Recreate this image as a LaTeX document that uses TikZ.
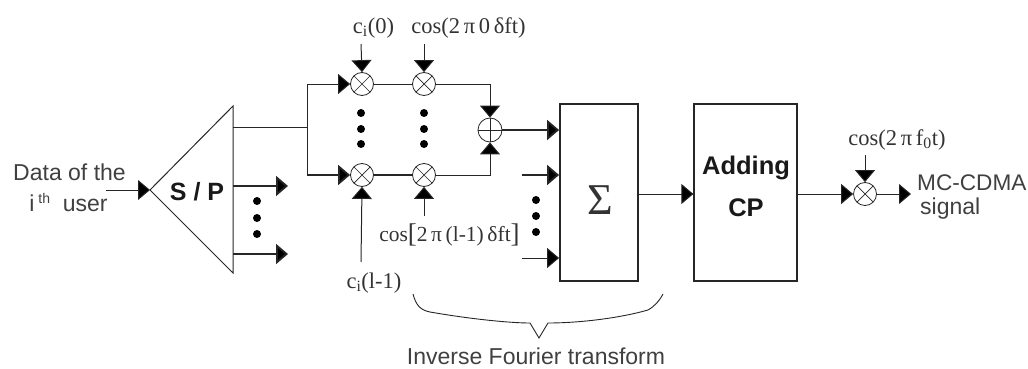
\documentclass[tikz,border=0pt]{standalone}
\usepackage{fontspec}
\setmainfont{Liberation Sans}
\newfontfamily\serifx{Liberation Serif}
\usetikzlibrary{arrows.meta}
\tikzset{
 thinw/.style={line width=1pt,draw=black!85},
 thickw/.style={line width=1.8pt,draw=black!85},
 arr/.style={-{Triangle[length=12pt,width=20pt,fill=black]}},
 mult/.style={circle,draw=black!85,line width=.8pt,minimum size=23pt,inner sep=0pt,fill=white,
   path picture={\draw[line width=.7pt,black!85] (path picture bounding box.north west)--(path picture bounding box.south east)
     (path picture bounding box.north east)--(path picture bounding box.south west);}},
 adder/.style={circle,draw=black!85,line width=.8pt,minimum size=24pt,inner sep=0pt,fill=white,
   path picture={\draw[line width=.8pt,black!85] (path picture bounding box.north)--(path picture bounding box.south)
     (path picture bounding box.east)--(path picture bounding box.west);}},
 bdot/.style={circle,fill=black,draw=none,minimum size=8pt,inner sep=0pt},
 sans/.style={font=\fontsize{23}{26}\selectfont,text=black!75,inner sep=0pt},
 sansb/.style={font=\fontsize{25.5}{28}\selectfont\bfseries,text=black!90,inner sep=0pt},
 ser/.style={font=\serifx\fontsize{22.5}{26}\selectfont,text=black!80,inner sep=0pt},
 blk/.style={draw=black!85,line width=1.8pt,inner sep=0pt},
}
\begin{document}
\begin{tikzpicture}[x=1pt,y=-1pt]
\useasboundingbox (0,0) rectangle (1028,369);
% S/P triangle
\coordinate (apex) at (150,190);
\coordinate (tt) at (233,106);
\coordinate (tb) at (233,273);
\draw[thinw,line join=miter] (apex)--(tt)--(tb)--cycle;
\node[sansb,font=\fontsize{25}{28}\selectfont\bfseries] (sp) at (197,192) {S / P};
\node[sans,anchor=center] (d1) at (69.5,172) {Data of the};
\node[sans,anchor=center] (d2) at (68.5,203) {i\raisebox{8pt}{\fontsize{14}{16}\selectfont\ th}\ \ user};
\coordinate (din) at (106,190);
\draw[thinw,arr] (din)--(apex);
% S/P outputs
\coordinate (s1) at (233,186); \coordinate (s1e) at (288,186);
\coordinate (s2) at (233,254); \coordinate (s2e) at (288,254);
\draw[thickw,arr] (s1)--(s1e);
\draw[thickw,arr] (s2)--(s2e);
\node[bdot] (sd1) at (257,201) {};
\node[bdot] (sd2) at (257,218) {};
\node[bdot] (sd3) at (257,234) {};
% splitting
\coordinate (s0) at (233,127);
\coordinate (br) at (307,127);
\coordinate (brt) at (307,84);
\coordinate (brb) at (307,175);
\node[mult] (m11) at (362,84) {};
\node[mult] (m12) at (424,84) {};
\node[mult] (m21) at (362,175) {};
\node[mult] (m22) at (424,175) {};
\node[adder] (add) at (490,130) {};
\draw[thinw] (s0)--(br);
\draw[thinw] (brb)--(brt);
\draw[thinw,arr] (brt)--(m11.west);
\draw[thickw,arr] (brb)--(m21.west);
\draw[thinw] (m11)--(m12);
\draw[thickw] (m21)--(m22);
\draw[thinw,arr] (m12.east)-|(add.north);
\draw[thinw,arr] (m22.east)-|(add.south);
% dots
\foreach \n/\y in {a/113,b/129,c/144}{
 \node[bdot] (da\n) at (361,\y) {};
 \node[bdot] (db\n) at (424,\y) {};
}
% input labels
\node[ser,anchor=center] (c0) at (373.5,28) {c\textsubscript{i}(0)};
\node[ser,anchor=center] (cos0) at (468.5,28) {cos(2\,π\,0\,δft)};
\coordinate (c0a) at (361,44); \coordinate (c1a) at (424,44);
\draw[thinw,arr] (c0a)--(m11.north);
\draw[thinw,arr] (c1a)--(m12.north);
\node[ser,anchor=center] (cl) at (374,283) {c\textsubscript{i}(l-1)};
\node[ser,font=\serifx\fontsize{21.5}{26}\selectfont,anchor=center] (cosl) at (449.5,235) {cos\raisebox{-1pt}{\fontsize{27}{27}\selectfont[}2\,π\,(l-1)\,δft\raisebox{-1pt}{\fontsize{27}{27}\selectfont]}};
\coordinate (cla) at (361,262); \coordinate (cosa) at (424,216);
\draw[thinw,arr] (cla)--(m21.south);
\draw[thinw,arr] (cosa)--(m22.south);
% Sigma box
\node[blk,minimum width=78pt,minimum height=177pt] (sig) at (599,192.5) {};
\node[ser,font=\serifx\fontsize{44}{46}\selectfont] at (600,200) (sigt) {Σ};
\coordinate (a1) at (522,175); \coordinate (a2) at (522,258);
\draw[thickw,arr] (add.east)--(add.east-|sig.west);
\draw[thickw,arr] (a1)--(a1-|sig.west);
\draw[thinw,arr] (a2)--(a2-|sig.west);
\node[bdot] (ed1) at (536,200) {};
\node[bdot] (ed2) at (536,216) {};
\node[bdot] (ed3) at (536,232) {};
% CP box
\node[draw=black!85,line width=1.2pt,inner sep=0pt,minimum width=103pt,minimum height=177pt] (cp) at (745.5,192.5) {};
\node[sansb] (addt) at (746,168) {Adding};
\node[sansb] (cpt) at (746,208) {CP};
\coordinate (l1) at (638,194);
\draw[thinw,arr] (l1)--(l1-|cp.west);
\node[mult] (m3) at (865,194) {};
\coordinate (cpo) at (797,194);
\draw[thinw,arr] (cpo)--(m3.west);
\coordinate (out) at (911,194);
\draw[thinw,arr] (m3)--(out);
\node[ser,anchor=center] (cosf) at (897,140) {cos(2\,π\,f\textsubscript{0}t)};
\coordinate (cf) at (865,155);
\draw[thinw,arr] (cf)--(m3.north);
\node[sans,anchor=west,font=\fontsize{22.6}{26}\selectfont] (mc) at (917,183) {MC-CDMA};
\node[sans,anchor=west] (sg) at (920,209) {signal};
% brace
\coordinate (b0) at (413,294); \coordinate (b1) at (539,338); \coordinate (b2) at (663,294);
\draw[line width=.9pt,black!85] (b0) .. controls (416,305) and (420,310) .. (430,312)
  .. controls (470,319) and (510,323) .. (530,323)
  -- (b1) -- (548,323)
  .. controls (580,323) and (620,318) .. (648,310)
  .. controls (655,306) and (660,300) .. (b2);
\node[sans,anchor=center] (ift) at (536,356.5) {Inverse Fourier transform};
\end{tikzpicture}
\end{document}
